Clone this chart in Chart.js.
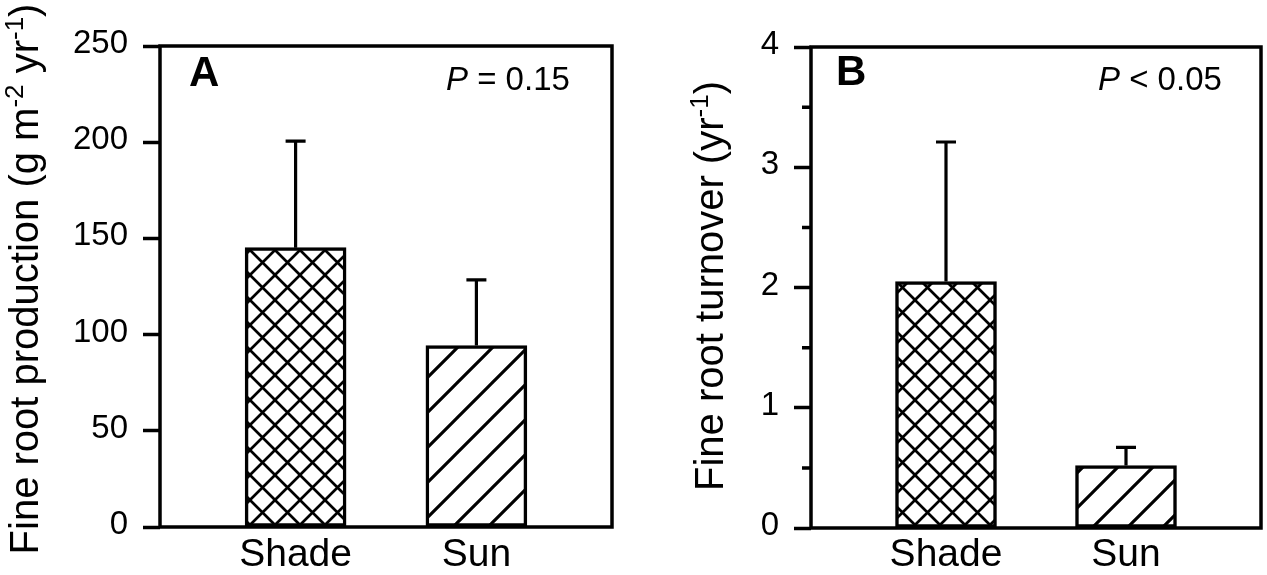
<!DOCTYPE html>
<html><head><meta charset="utf-8">
<script src="https://cdn.jsdelivr.net/npm/chart.js@4.4.1/dist/chart.umd.min.js"></script>
<style>
html,body{margin:0;padding:0;background:#fff;overflow:hidden}
#wrap{position:relative;width:1267px;height:575px;background:#fff}
canvas{position:absolute;top:0}
#c1{left:0}
#c2{left:640px}
</style></head><body>
<div id="wrap"><canvas id="c1" width="640" height="575"></canvas><canvas id="c2" width="627" height="575"></canvas></div>
<script>
// ---- data ----
const categories = ['Shade', 'Sun'];
const productionMeans = [145.2, 94.3];
const productionErrors = [55.4, 34.1];
const productionTicks = [0, 50, 100, 150, 200, 250];
const turnoverMeans = [2.05, 0.52];
const turnoverErrors = [1.16, 0.15];
const turnoverTicks = [0, 1, 2, 3, 4];
const turnoverMinorTicks = [0.5, 1.5, 2.5, 3.5];

const FONT = "'Liberation Sans', Arial, Helvetica, sans-serif";
Chart.defaults.font.family = FONT;
Chart.defaults.color = '#000';

function makeHatch(size, both, lw) {
  const c = document.createElement('canvas');
  c.width = size; c.height = size;
  const g = c.getContext('2d');
  g.fillStyle = '#fff'; g.fillRect(0, 0, size, size);
  g.strokeStyle = '#000'; g.lineWidth = lw;
  g.beginPath();
  for (let k = -1; k <= 1; k++) {
    g.moveTo(-3, size + 3 + k * size); g.lineTo(size + 3, -3 + k * size);
    if (both) { g.moveTo(-3, -3 + k * size); g.lineTo(size + 3, size + 3 + k * size); }
  }
  g.stroke();
  return g.createPattern(c, 'repeat');
}
const crossPattern = makeHatch(25, true, 2.7);
const diagPattern = makeHatch(35, false, 3.1);

const errorBarPlugin = {
  id: 'errorBars',
  afterDatasetsDraw(chart, args, opts) {
    const ctx = chart.ctx, ys = chart.scales.y;
    const meta = chart.getDatasetMeta(0);
    ctx.save();
    ctx.strokeStyle = '#000'; ctx.lineWidth = 3.2; ctx.lineCap = 'butt';
    meta.data.forEach((el, i) => {
      const top = ys.getPixelForValue(opts.means[i] + opts.errors[i]);
      ctx.beginPath();
      ctx.moveTo(el.x, el.y); ctx.lineTo(el.x, top);
      ctx.moveTo(el.x - 10, top); ctx.lineTo(el.x + 10, top);
      ctx.stroke();
    });
    ctx.restore();
  }
};

const framePlugin = {
  id: 'frame',
  afterDraw(chart, args, opts) {
    const ctx = chart.ctx, a = chart.chartArea, ys = chart.scales.y;
    ctx.save();
    ctx.strokeStyle = '#000'; ctx.lineWidth = 3.5;
    ctx.strokeRect(a.left, a.top, a.right - a.left, a.bottom - a.top);
    ctx.beginPath();
    (opts.minor || []).forEach(v => {
      const y = ys.getPixelForValue(v);
      ctx.moveTo(a.left - 9, y); ctx.lineTo(a.left, y);
    });
    ctx.stroke();
    // y axis title with superscripts
    const t = opts.title;
    ctx.translate(t.x, t.y);
    ctx.rotate(-Math.PI / 2);
    ctx.fillStyle = '#000';
    ctx.textBaseline = 'alphabetic';
    ctx.textAlign = 'left';
    const big = t.size + 'px ' + FONT, small = Math.round(t.size * 0.64) + 'px ' + FONT;
    let total = 0;
    t.parts.forEach(p => { ctx.font = p.sup ? small : big; total += ctx.measureText(p.text).width; });
    let x = -total / 2;
    t.parts.forEach(p => {
      ctx.font = p.sup ? small : big;
      ctx.fillText(p.text, x, p.sup ? -Math.round(t.size * 0.38) : 0);
      x += ctx.measureText(p.text).width;
    });
    ctx.restore();
    // panel letter and P value
    ctx.save();
    ctx.fillStyle = '#000';
    ctx.textBaseline = 'alphabetic'; ctx.textAlign = 'left';
    ctx.font = 'bold 42px ' + FONT;
    ctx.fillText(opts.letter, a.left + opts.letterDx, a.top + opts.letterDy);
    ctx.font = 'italic 33px ' + FONT;
    const px = a.left + opts.pDx, py = a.top + opts.pDy;
    ctx.fillText('P', px, py);
    const pw = ctx.measureText('P').width;
    ctx.font = '33px ' + FONT;
    ctx.fillText(opts.pText, px + pw, py);
    ctx.restore();
  }
};

function buildChart(id, c) {
  return new Chart(document.getElementById(id), {
    type: 'bar',
    data: {
      datasets: [{
        data: categories.map((name, i) => ({ x: i + 1, y: c.means[i] })),
        backgroundColor: [crossPattern, diagPattern],
        borderColor: '#000',
        borderWidth: 3.5,
        borderSkipped: false,
        barThickness: 101
      }]
    },
    options: {
      responsive: false,
      animation: false,
      devicePixelRatio: 1,
      layout: { padding: { left: 0, top: c.padTop, right: c.padRight, bottom: 0 } },
      plugins: {
        legend: { display: false },
        tooltip: { enabled: false },
        errorBars: { means: c.means, errors: c.errors },
        frame: c.frame
      },
      scales: {
        x: {
          type: 'linear', min: 0.25, max: 2.75, offset: false,
          afterBuildTicks: s => { s.ticks = categories.map((n, i) => ({ value: i + 1 })); },
          ticks: { callback: v => categories[Math.round(v) - 1], font: { size: 39 }, color: '#000', padding: c.xPad, maxRotation: 0, autoSkip: false },
          grid: { display: false, drawTicks: false, tickLength: 0 },
          border: { display: false },
          afterFit: s => { s.height = c.xHeight; }
        },
        y: {
          min: c.ticks[0], max: c.ticks[c.ticks.length - 1],
          afterBuildTicks: s => { s.ticks = c.ticks.map(v => ({ value: v })); },
          ticks: { font: { size: 33 }, color: '#000', padding: 15, labelOffset: -2 },
          grid: { drawOnChartArea: false, drawTicks: true, tickLength: 17, tickWidth: 3.5, tickColor: '#000' },
          border: { display: false },
          afterFit: s => { s.width = c.yWidth; }
        }
      }
    },
    plugins: [errorBarPlugin, framePlugin]
  });
}

buildChart('c1', {
  means: productionMeans, errors: productionErrors, ticks: productionTicks,
  padTop: 46, padRight: 28, yWidth: 160, xHeight: 48, xPad: 5,
  frame: {
    minor: [],
    letter: 'A', letterDx: 29, letterDy: 40,
    pText: ' = 0.15', pDx: 286, pDy: 44,
    title: { x: 38, y: 279, size: 40, parts: [
      { text: 'Fine root production (g m' }, { text: '-2', sup: true },
      { text: ' yr' }, { text: '-1', sup: true }, { text: ')' }] }
  }
});

buildChart('c2', {
  means: turnoverMeans, errors: turnoverErrors, ticks: turnoverTicks,
  padTop: 47, padRight: 6, yWidth: 171, xHeight: 47, xPad: 4,
  frame: {
    minor: turnoverMinorTicks,
    letter: 'B', letterDx: 25, letterDy: 38,
    pText: ' < 0.05', pDx: 287, pDy: 43,
    title: { x: 83, y: 286, size: 40, parts: [
      { text: 'Fine root turnover (yr' }, { text: '-1', sup: true }, { text: ')' }] }
  }
});
</script>
</body></html>
